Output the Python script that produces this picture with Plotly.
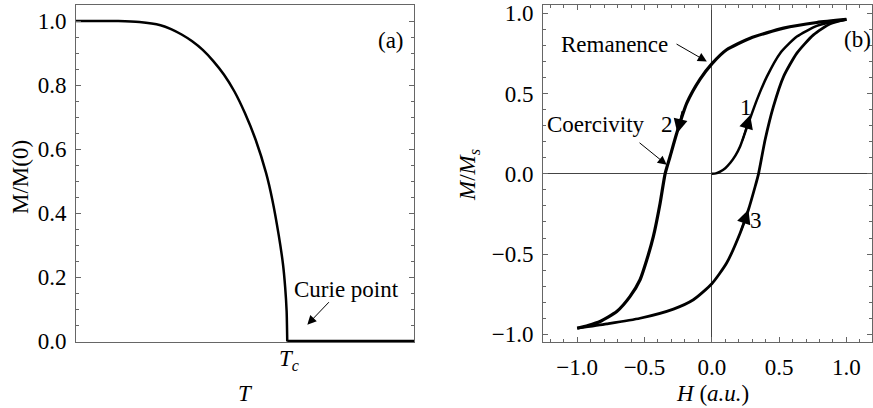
import plotly.graph_objects as go

# ---------------- data ----------------
# Panel (a): M/M(0) vs T (T in units of Tc)
T_vals = [0.0, 0.1, 0.2, 0.3, 0.4, 0.45, 0.5, 0.55, 0.6, 0.65, 0.7, 0.75, 0.8,
          0.85, 0.9, 0.93, 0.96, 0.98, 0.99, 0.997, 1.0]
M_vals = [1.0, 1.0, 1.0, 0.997, 0.987, 0.975, 0.958, 0.937, 0.910, 0.875, 0.833,
          0.780, 0.712, 0.630, 0.525, 0.440, 0.330, 0.240, 0.170, 0.095, 0.0]
T_flat = [1.0, 1.6]
M_flat = [0.0, 0.0]
T_tick_vals = [1.0]
T_tick_text = ["<i>T</i><sub><i>c</i></sub>"]

# Panel (b): hysteresis loop
H_down = [1.0, 0.78, 0.533, 0.285, 0.11, 0.0, -0.087, -0.186, -0.26, -0.31, -0.347,
          -0.384, -0.434, -0.483, -0.533, -0.607, -0.706, -0.83, -0.92, -1.0]
M_down = [0.962, 0.943, 0.908, 0.845, 0.773, 0.685, 0.59, 0.44, 0.254, 0.108, 0.0,
          -0.183, -0.39, -0.536, -0.66, -0.764, -0.858, -0.92, -0.945, -0.962]
H_up = [-1.0, -0.78, -0.533, -0.285, -0.137, 0.0, 0.11, 0.21, 0.272, 0.322, 0.347,
        0.396, 0.458, 0.533, 0.632, 0.755, 0.88, 1.0]
M_up = [-0.962, -0.935, -0.9, -0.843, -0.785, -0.685, -0.556, -0.37, -0.224, -0.079, 0.0,
        0.212, 0.42, 0.606, 0.752, 0.866, 0.935, 0.962]
H_virgin = [0.0, 0.03, 0.062, 0.1, 0.136, 0.175, 0.21, 0.272, 0.335, 0.409, 0.508,
            0.632, 0.78, 0.9, 1.0]
M_virgin = [0.0, 0.003, 0.014, 0.035, 0.067, 0.113, 0.17, 0.316, 0.461, 0.606, 0.752,
            0.855, 0.922, 0.948, 0.962]

FONT = "Liberation Serif, Times New Roman, serif"
FS = 23
FRAME = "#666666"

fig = go.Figure()

# Panel (a)
fig.add_trace(go.Scatter(x=T_vals, y=M_vals, mode="lines",
                         line=dict(color="black", width=2.5, shape="spline", smoothing=0.6),
                         xaxis="x", yaxis="y", showlegend=False, hoverinfo="skip"))
fig.add_trace(go.Scatter(x=T_flat, y=M_flat, mode="lines",
                         line=dict(color="black", width=3),
                         xaxis="x", yaxis="y", showlegend=False, hoverinfo="skip"))

# Panel (b)
fig.add_trace(go.Scatter(x=H_down, y=M_down, mode="lines",
                         line=dict(color="black", width=3.2, shape="spline", smoothing=0.6),
                         xaxis="x2", yaxis="y2", showlegend=False, hoverinfo="skip"))
fig.add_trace(go.Scatter(x=H_up, y=M_up, mode="lines",
                         line=dict(color="black", width=2.8, shape="spline", smoothing=0.6),
                         xaxis="x2", yaxis="y2", showlegend=False, hoverinfo="skip"))
fig.add_trace(go.Scatter(x=H_virgin, y=M_virgin, mode="lines",
                         line=dict(color="black", width=2.5, shape="spline", smoothing=0.6),
                         xaxis="x2", yaxis="y2", showlegend=False, hoverinfo="skip"))

ydom = [1 - 342 / 408, 1 - 5 / 408]
common = dict(showline=True, linecolor=FRAME, linewidth=1, showgrid=False,
              tickfont=dict(family=FONT, size=FS, color="black"),
              ticklabelstandoff=4, automargin=False)

fig.update_layout(
    width=873, height=408,
    margin=dict(l=0, r=0, t=0, b=0, pad=0, autoexpand=False),
    showlegend=False,
    paper_bgcolor="white", plot_bgcolor="white",
    font=dict(family=FONT, size=FS, color="black"),
    xaxis=dict(domain=[76 / 873, 414 / 873], range=[0, 1.6], anchor="y",
               tickmode="array", tickvals=T_tick_vals, ticktext=T_tick_text,
               showticklabels=False,
               ticks="", zeroline=False, mirror=True, **common),
    xaxis3=dict(overlaying="x", side="top", anchor="y", range=[0, 1.6],
                showticklabels=False, ticks="inside", ticklen=5, tickcolor=FRAME,
                dtick=0.2, tick0=0, showgrid=False, zeroline=False, showline=False,
                automargin=False,
                minor=dict(ticks="inside", ticklen=3, dtick=0.05, tickcolor=FRAME)),
    yaxis=dict(domain=ydom, range=[-0.002, 1.05], anchor="x",
               ticks="inside", ticklen=5, tickcolor=FRAME, dtick=0.2, tick0=0,
               tickformat=".1f", mirror="ticks", zeroline=False,
               minor=dict(ticks="inside", ticklen=3, dtick=0.05, tickcolor=FRAME),
               **common),
    xaxis2=dict(domain=[543 / 873, 872 / 873], range=[-1.254, 1.19], anchor="y2",
                ticks="inside", ticklen=5, tickcolor=FRAME, dtick=0.5, tick0=0,
                tickformat=".1f", mirror="ticks",
                zeroline=True, zerolinecolor="#444444", zerolinewidth=1,
                minor=dict(ticks="inside", ticklen=3, dtick=0.1, tickcolor=FRAME),
                **common),
    yaxis2=dict(domain=ydom, range=[-1.048, 1.052], anchor="x2",
                ticks="inside", ticklen=5, tickcolor=FRAME, dtick=0.5, tick0=0,
                tickformat=".1f", mirror="ticks",
                zeroline=True, zerolinecolor="#444444", zerolinewidth=1,
                minor=dict(ticks="inside", ticklen=3, dtick=0.1, tickcolor=FRAME),
                **common),
)

ann = []
def txt(x, y, s, xref, yref, **kw):
    ann.append(dict(x=x, y=y, text=s, xref=xref, yref=yref, showarrow=False,
                    xanchor="center", yanchor="middle",
                    font=dict(family=FONT, size=FS, color="black"), **kw))

def arrow(x, y, ax, ay, xref, yref, width=1, size=1.8):
    ann.append(dict(x=x, y=y, ax=ax, ay=ay, xref=xref, yref=yref, axref=xref, ayref=yref,
                    text="", showarrow=True, arrowhead=2, arrowwidth=width,
                    arrowsize=size, arrowcolor="black"))

# Tc tick label (placed as annotation for exact vertical position)
for tv, tt in zip(T_tick_vals, T_tick_text):
    txt(tv + 0.01, 1 - 360 / 408, tt, "x", "paper")

# axis titles
txt(20 / 873, 1 - 177 / 408, "M/M(0)", "paper", "paper", textangle=-90)
txt(245 / 873, 1 - 393 / 408, "<i>T</i>", "paper", "paper")
txt(469 / 873, 1 - 175 / 408, "<i>M</i>/<i>M</i><sub><i>s</i></sub>", "paper", "paper",
    textangle=-90)
txt(712 / 873, 1 - 393 / 408, "<i>H</i> (<i>a.u.</i>)", "paper", "paper")

# panel (a) labels
txt(1.493, 0.94, "(a)", "x", "y")
txt(1.28, 0.161, "Curie point", "x", "y")
arrow(1.095, 0.052, 1.204, 0.127, "x", "y")

# panel (b) labels
txt(1.08, 0.835, "(b)", "x2", "y2")
txt(-0.723, 0.804, "Remanence", "x2", "y2")
arrow(-0.037, 0.70, -0.273, 0.814, "x2", "y2")
txt(-0.86, 0.305, "Coercivity", "x2", "y2")
arrow(-0.335, 0.056, -0.548, 0.201, "x2", "y2")
txt(-0.332, 0.305, "2", "x2", "y2")
txt(0.255, 0.411, "1", "x2", "y2")
txt(0.329, -0.293, "3", "x2", "y2")

# direction arrows on curves
arrow(-0.256, 0.254, -0.215, 0.40, "x2", "y2", width=2, size=1.4)
arrow(0.285, 0.367, 0.225, 0.20, "x2", "y2", width=2, size=1.4)
arrow(0.272, -0.224, 0.215, -0.36, "x2", "y2", width=2, size=1.4)

fig.update_layout(annotations=ann)
fig.write_html("out.html")
